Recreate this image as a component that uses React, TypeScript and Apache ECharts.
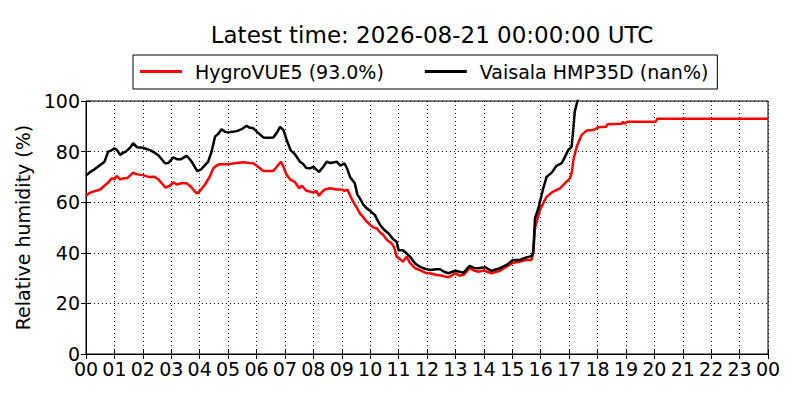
import React, { useEffect, useRef } from "react";
import * as echarts from "echarts";

const titleText = "Latest time: 2026-08-21 00:00:00 UTC";
const seriesNames = ["HygroVUE5 (93.0%)", "Vaisala HMP35D (nan%)"];
const seriesColors = ["#ff0000", "#000000"];
const yTicks = [0, 20, 40, 60, 80, 100];
const hourTicks = Array.from({ length: 25 }, (_, i) => i);

const hygroHours = [
  0.0, 0.1, 0.2, 0.35, 0.5, 0.65, 0.8, 0.9, 1.0, 1.08, 1.2, 1.32, 1.45, 1.55, 1.66, 1.8,
  2.0, 2.2, 2.4, 2.55, 2.7, 2.8, 2.95, 3.07, 3.2, 3.35, 3.54, 3.7, 3.85, 3.92, 4.05, 4.19,
  4.35, 4.48, 4.6, 4.71, 5.0, 5.3, 5.53, 5.75, 5.89, 6.05, 6.24, 6.45, 6.59, 6.75, 6.86,
  6.95, 7.05, 7.2, 7.35, 7.5, 7.6, 7.75, 7.88, 8.0, 8.1, 8.2, 8.3, 8.4, 8.6, 8.8, 9.0, 9.1,
  9.2, 9.3, 9.4, 9.52, 9.64, 9.76, 9.88, 10.0, 10.12, 10.23, 10.35, 10.46, 10.6, 10.76,
  10.85, 10.93, 11.05, 11.16, 11.28, 11.4, 11.58, 11.75, 11.99, 12.1, 12.34, 12.5, 12.75,
  13.0, 13.15, 13.28, 13.5, 13.65, 13.8, 14.0, 14.27, 14.57, 14.8, 15.03, 15.27, 15.5,
  15.68, 15.74, 15.8, 15.9, 15.97, 16.21, 16.44, 16.68, 16.86, 17.03, 17.1, 17.15, 17.27,
  17.44, 17.62, 17.85, 18.03, 18.3, 18.35, 18.85, 18.9, 18.95, 19.05, 20.05, 20.1, 24.0,
];
const hygroRH = [
  62.5, 63.5, 64, 64.5, 65, 66.5, 68, 69.5, 69, 70.4, 69, 69.5, 69.5, 70.5, 71.7, 71,
  70.7, 70, 70.1, 69, 67, 65.8, 66.5, 67.8, 67, 67.5, 67.5, 66, 64, 63.5, 65, 67,
  70, 73.4, 74.5, 75, 75, 75.5, 75.8, 75.5, 75.4, 74, 72.3, 72.3, 72.3, 74.5, 76,
  74, 71, 68.8, 68, 65.5, 66.5, 64.5, 64.2, 63.8, 64.5, 62.5, 64, 65, 65.5, 65, 65, 64.5,
  65, 62.5, 60.2, 58, 55.6, 54, 52.3, 51, 50, 49.7, 48, 47, 45, 43.7,
  42, 38.5, 37.5, 36.5, 38.5, 36, 33.9, 33.2, 31.9, 31.9, 31.2, 31, 30.3,
  31.9, 31, 31.2, 33.9, 33, 32.5, 33, 31.9, 32.9, 34.5, 36.1, 36.5, 37.2,
  37.2, 40, 49.7, 54, 56.9, 62.2, 64.2, 65.5, 67.5, 69.4, 72, 76.7, 82,
  86.6, 88.3, 88.5, 89.6, 89.8, 90.8, 91.0, 91.8, 91.0, 91.8, 91.8, 93.0, 93.0,
];

const vaisalaHours = [
  0.0, 0.15, 0.3, 0.5, 0.65, 0.78, 0.9, 1.0, 1.1, 1.2, 1.3, 1.4, 1.55, 1.66, 1.8, 2.0,
  2.25, 2.4, 2.55, 2.7, 2.78, 2.9, 3.07, 3.2, 3.35, 3.54, 3.65, 3.72, 3.85, 3.92, 4.05,
  4.13, 4.3, 4.42, 4.54, 4.65, 4.77, 4.9, 5.0, 5.15, 5.3, 5.5, 5.65, 5.75, 5.89, 6.05,
  6.24, 6.4, 6.59, 6.72, 6.83, 6.95, 7.05, 7.2, 7.35, 7.53, 7.65, 7.75, 7.88, 8.0, 8.1,
  8.2, 8.35, 8.47, 8.6, 8.82, 8.95, 9.1, 9.2, 9.29, 9.46, 9.55, 9.64, 9.76, 9.88, 10.0,
  10.17, 10.25, 10.35, 10.5, 10.64, 10.8, 10.93, 11.0, 11.15, 11.28, 11.4, 11.58, 11.75,
  11.87, 12.1, 12.34, 12.46, 12.6, 12.75, 13.0, 13.28, 13.5, 13.65, 13.8, 14.04, 14.27,
  14.57, 14.8, 15.03, 15.27, 15.5, 15.68, 15.74, 15.8, 15.92, 16.09, 16.21, 16.39, 16.56,
  16.74, 16.86, 16.97, 17.09, 17.15, 17.2, 17.29, 17.4,
];
const vaisalaRH = [
  70.5, 72, 73, 74.7, 76, 80, 80.5, 81.3, 80.5, 78.7, 79.5, 80, 81.5, 83.3, 81.7, 81.5,
  80.6, 79.7, 78.5, 76.5, 75.4, 75.5, 77.7, 77, 77, 78.3, 77, 76, 73.5, 72.3, 73,
  74, 76, 80, 85.9, 87, 88.8, 87.8, 87.6, 87.8, 88.1, 89, 90.2, 89.5, 89.2, 87.5,
  85.6, 85.5, 85.6, 87.5, 89.8, 88.5, 85, 80.6, 79, 76, 75, 73.5, 73.4, 74, 73,
  72, 74, 76, 75.5, 76, 74.5, 75.3, 73, 70, 67.5, 63, 61.5, 59, 57.6, 56.5,
  54.9, 53, 51, 49, 47.7, 45.5, 44.4, 41, 41, 39.8, 38.5, 35.8, 34.5,
  33.9, 33.2, 33.5, 33.5, 32.5, 31.9, 32.9, 32.1, 34.8, 34, 33.9, 34.3, 32.9,
  33.9, 35.2, 37.2, 37.2, 38.2, 38.7, 40.4, 53.6, 57.6, 65.5, 70, 71.7, 74.4,
  75.4, 78, 80.6, 82, 89.2, 95.8, 99.8, 106,
];

const FONT = "DejaVu Sans";

export default function App() {
  const ref = useRef<HTMLDivElement>(null);
  useEffect(() => {
    if (!ref.current) return;
    const chart = echarts.init(ref.current, undefined, { renderer: "svg" });
    const hourFmt = (v: number) => String(Math.round(v) % 24).padStart(2, "0");
    const baseX = {
      type: "value" as const,
      min: hourTicks[0],
      max: hourTicks[hourTicks.length - 1],
      interval: 1,
      axisLine: { show: true, lineStyle: { color: "#000", width: 1 } },
      axisTick: { show: true, inside: true, length: 5, lineStyle: { color: "#000" } },
    };
    const baseY = {
      type: "value" as const,
      min: yTicks[0],
      max: yTicks[yTicks.length - 1],
      interval: 20,
      axisLine: { show: true, lineStyle: { color: "#000", width: 1 } },
      axisTick: { show: true, inside: true, length: 5, lineStyle: { color: "#000" } },
    };
    chart.setOption({
      animation: false,
      backgroundColor: "#fff",
      title: {
        text: titleText,
        left: 427,
        textAlign: "center",
        top: 18,
        textStyle: { fontFamily: FONT, fontSize: 23, fontWeight: "normal", color: "#000" },
      },
      legend: {
        left: 133,
        top: 55,
        orient: "horizontal",
        borderColor: "#000",
        borderWidth: 1,
        padding: [7, 9, 8, 7],
        itemGap: 41,
        itemWidth: 42,
        itemHeight: 3,
        icon: "rect",
        data: seriesNames,
        textStyle: {
          fontFamily: FONT,
          fontSize: 19,
          color: "#000",
          padding: [0, 0, 0, 8],
        },
      },
      grid: {
        left: 86,
        top: 101,
        right: 32,
        bottom: 46,
        show: true,
        borderColor: "#000",
        borderWidth: 1,
        backgroundColor: "transparent",
      },
      xAxis: [
        {
          ...baseX,
          position: "bottom",
          axisLabel: {
            fontFamily: FONT,
            fontSize: 19,
            color: "#000",
            margin: 5,
            formatter: hourFmt,
          },
          splitLine: { show: true, lineStyle: { color: "#000", width: 1, type: [1, 3] } },
        },
        {
          ...baseX,
          position: "top",
          axisLabel: { show: false },
          splitLine: { show: false },
        },
      ],
      yAxis: [
        {
          ...baseY,
          position: "left",
          name: "Relative humidity (%)",
          nameLocation: "middle",
          nameGap: 43,
          nameTextStyle: { fontFamily: FONT, fontSize: 19, color: "#000" },
          axisLabel: { fontFamily: FONT, fontSize: 19, color: "#000", margin: 6 },
          splitLine: { show: true, lineStyle: { color: "#000", width: 1, type: [1, 3] } },
        },
        {
          ...baseY,
          position: "right",
          axisLabel: { show: false },
          splitLine: { show: false },
        },
      ],
      series: [
        {
          name: seriesNames[0],
          type: "line",
          xAxisIndex: 0,
          yAxisIndex: 0,
          data: hygroHours.map((h, i) => [h, hygroRH[i]]),
          showSymbol: false,
          symbol: "none",
          clip: true,
          color: seriesColors[0],
          lineStyle: { color: seriesColors[0], width: 2.5 },
        },
        {
          name: seriesNames[1],
          type: "line",
          xAxisIndex: 0,
          yAxisIndex: 0,
          data: vaisalaHours.map((h, i) => [h, vaisalaRH[i]]),
          showSymbol: false,
          symbol: "none",
          clip: true,
          color: seriesColors[1],
          lineStyle: { color: seriesColors[1], width: 2.5 },
        },
      ],
    });
    return () => chart.dispose();
  }, []);
  return (
    <div
      ref={ref}
      style={{ position: "fixed", left: 0, top: 0, width: 800, height: 400 }}
    />
  );
}
